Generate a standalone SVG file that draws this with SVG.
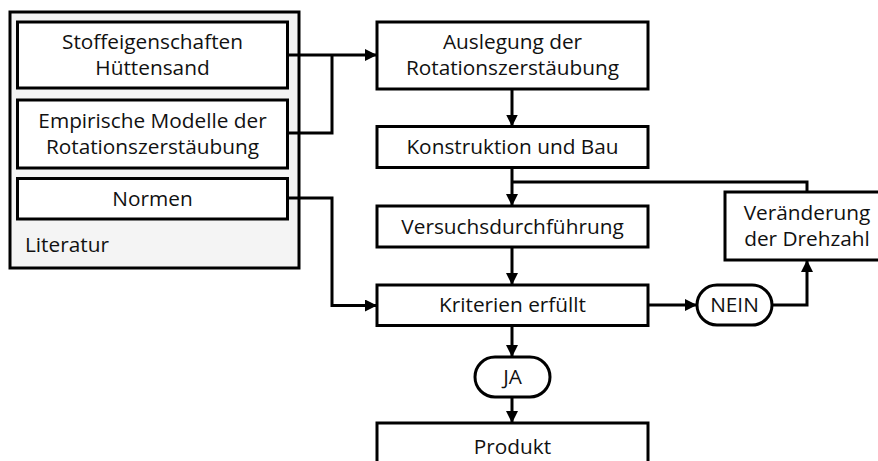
<svg xmlns="http://www.w3.org/2000/svg" width="878" height="461" viewBox="0 0 878 461">
<defs>
<style>
.box{fill:#fff;stroke:#000;stroke-width:3}
.outer{fill:#f4f4f4;stroke:#000;stroke-width:3}
.t{font-family:"Open Sans","Liberation Sans",sans-serif;font-size:20.8px;fill:#111;text-anchor:middle}
.tl{font-family:"Open Sans","Liberation Sans",sans-serif;font-size:20.8px;fill:#111}
.c{fill:none;stroke:#000;stroke-width:3}
.ca{fill:none;stroke:#000;stroke-width:3;marker-end:url(#ah)}
</style>
<marker id="ah" markerUnits="userSpaceOnUse" markerWidth="12" markerHeight="12" refX="12" refY="6" orient="auto">
<path d="M0,0 L12,6 L0,12 Z" fill="#000"/>
</marker>
</defs>
<g id="literatur">
<rect class="outer" x="10" y="12" width="289" height="256"/>
<text class="tl" x="25" y="252">Literatur</text>
</g>
<g id="stoffeigenschaften">
<rect class="box" x="17.5" y="22" width="270" height="66"/>
<text class="t" x="152.5" y="49">Stoffeigenschaften</text>
<text class="t" x="152.5" y="75">Hüttensand</text>
</g>
<g id="empirische">
<rect class="box" x="17.5" y="100" width="270" height="68"/>
<text class="t" x="152.5" y="128">Empirische Modelle der</text>
<text class="t" x="152.5" y="154">Rotationszerstäubung</text>
</g>
<g id="normen">
<rect class="box" x="17.5" y="178.5" width="270" height="40.5"/>
<text class="t" x="152.5" y="206">Normen</text>
</g>
<g id="auslegung">
<rect class="box" x="377" y="22" width="271" height="67"/>
<text class="t" x="512.5" y="49">Auslegung der</text>
<text class="t" x="512.5" y="75">Rotationszerstäubung</text>
</g>
<g id="konstruktion">
<rect class="box" x="377" y="126.5" width="271" height="41"/>
<text class="t" x="512.5" y="154">Konstruktion und Bau</text>
</g>
<g id="versuch">
<rect class="box" x="377" y="206" width="271" height="41"/>
<text class="t" x="512.5" y="233.5">Versuchsdurchführung</text>
</g>
<g id="kriterien">
<rect class="box" x="377" y="285" width="271" height="40.5"/>
<text class="t" x="512.5" y="312">Kriterien erfüllt</text>
</g>
<g id="produkt">
<rect class="box" x="377" y="423" width="271" height="45"/>
<text class="t" x="512.5" y="454">Produkt</text>
</g>
<g id="veraenderung">
<rect class="box" x="725" y="192" width="170" height="68"/>
<text class="t" x="807" y="220">Veränderung</text>
<text class="t" x="807" y="246">der Drehzahl</text>
</g>
<g id="nein">
<rect class="box" x="697" y="285" width="75" height="40" rx="20" ry="20"/>
<text class="t" x="734.5" y="312">NEIN</text>
</g>
<g id="ja">
<rect class="box" x="475" y="357" width="75" height="40" rx="20" ry="20"/>
<text class="t" x="512.5" y="384">JA</text>
</g>
<g id="connectors">
<path class="ca" d="M288,55 H377"/>
<path class="c" d="M288,133 H332 V55"/>
<path class="ca" d="M288,198 H332 V305.5 H377"/>
<path class="ca" d="M512,89 V126.5"/>
<path class="ca" d="M512,167.5 V206"/>
<path class="c" d="M807,192 V182 H512"/>
<path class="ca" d="M512,247 V285"/>
<path class="ca" d="M648,305 H697"/>
<path class="ca" d="M772,305 H807 V260"/>
<path class="ca" d="M512,325.5 V357"/>
<path class="ca" d="M512,397 V423"/>
</g>
</svg>
